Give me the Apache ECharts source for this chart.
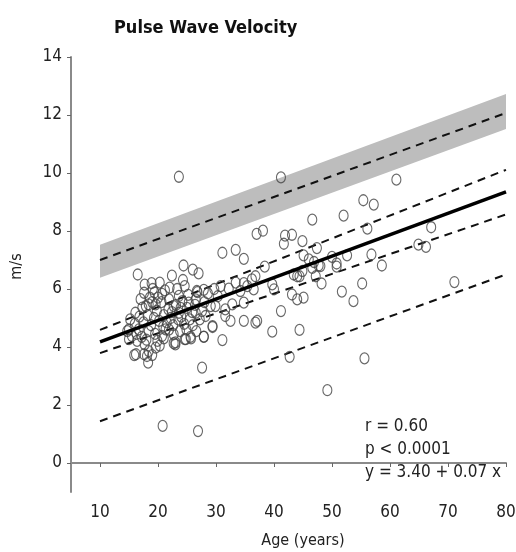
<!DOCTYPE html>
<html lang="en">
<head>
    <meta charset="UTF-8">
    <title>Pulse Wave Velocity</title>
    <script src="https://cdn.jsdelivr.net/npm/echarts@6/dist/echarts.min.js"></script>
    <style type="text/css">
        body { margin: 0px; padding: 0px; background: #fff; }
        #chart { width: 516px; height: 552px; }
    </style>
</head>
<body>
    <div id="chart"></div>
</body>
<script>
    // tick labels
    const xTicks = [10, 20, 30, 40, 50, 60, 70, 80];
    const yTicks = [0, 2, 4, 6, 8, 10, 12, 14];

    // subjects: age (years) and PWV (m/s)
    const ages = [
        23.6, 41.2, 61.1, 55.4, 57.2, 46.6, 52.0, 37.0, 38.1, 41.9, 43.1, 41.7, 44.9, 47.4, 56.1, 67.1,
        64.9, 66.2, 56.8, 52.6, 45.1, 46.0, 46.9, 47.7, 50.0, 50.8, 50.8, 58.6, 38.4, 36.8, 36.5, 43.4,
        44.4, 47.2, 48.2, 55.2, 51.7, 53.7, 43.1, 44.0, 45.1, 41.2, 37.1, 39.7, 44.4, 42.7, 55.6, 49.2,
        40.0, 71.1, 20.8, 26.9, 27.6, 39.7, 44.0, 44.9, 46.6, 48.0,
        31.1, 33.4, 34.8, 30.8, 33.4, 34.8, 36.2, 32.2, 34.2, 29.9, 31.6, 32.8, 34.8, 31.6, 32.5, 34.8,
        36.8, 29.4, 27.9, 31.1, 25.6, 24.6, 23.0, 35.4,
        16.5, 22.4, 24.4, 26.0, 27.0, 24.3, 17.7, 18.9, 20.3, 17.6, 19.4, 20.7, 24.6, 26.7, 27.9, 26.8,
        23.6, 26.5, 25.3, 21.9, 22.7, 24.2, 16.1, 17.9, 19.6, 18.4, 17.3, 23.6, 26.5, 28.2, 27.6, 29.1,
        25.9, 15.5, 16.4, 16.2, 17.7, 18.4, 18.1, 18.3, 19.6, 19.9, 20.7, 21.3, 15.0, 16.7, 18.4, 23.0,
        22.7, 14.7, 15.0, 15.9, 19.0, 17.6, 22.7, 24.8, 25.7, 27.9, 29.4,
        15.2, 16.0, 16.8, 17.5, 18.2, 18.8, 19.3, 19.8, 20.2, 20.6, 21.0, 21.5, 21.8, 22.2, 22.6, 23.1,
        23.5, 24.0, 24.5, 25.0, 25.5, 26.0, 26.4, 27.2, 28.0, 28.6, 29.7, 30.3, 17.0, 18.6, 19.1, 20.0,
        21.2, 22.0, 23.3, 23.9, 25.2, 16.3, 17.2, 18.0, 19.5, 20.3, 21.0, 21.9, 23.8, 24.9, 26.6, 19.0,
        20.9, 22.4
    ];
    const pwv = [
        9.87, 9.85, 9.77, 9.06, 8.91, 8.39, 8.53, 7.90, 8.01, 7.84, 7.87, 7.56, 7.65, 7.41, 8.08, 8.13,
        7.53, 7.45, 7.19, 7.16, 7.16, 7.02, 6.93, 6.81, 7.11, 6.88, 6.77, 6.81, 6.77, 6.44, 5.99, 6.50,
        6.44, 6.44, 6.19, 6.19, 5.91, 5.58, 5.81, 5.64, 5.70, 5.24, 4.90, 4.53, 4.59, 3.66, 3.61, 2.51,
        5.99, 6.24, 1.28, 1.10, 3.29, 6.16, 6.44, 6.62, 6.73, 6.79,
        7.25, 7.35, 7.04, 6.10, 6.22, 6.20, 6.33, 6.01, 5.93, 5.41, 5.30, 5.47, 5.53, 5.07, 4.90, 4.90,
        4.84, 4.69, 4.35, 4.24, 4.35, 4.27, 4.16, 6.10,
        6.50, 6.46, 6.81, 6.67, 6.54, 6.31, 6.15, 6.20, 6.22, 5.87, 5.88, 5.83, 6.10, 5.93, 5.97, 5.89,
        5.76, 5.64, 5.53, 5.64, 5.41, 5.58, 5.18, 5.41, 5.47, 5.47, 5.36, 5.18, 5.18, 5.07, 5.24, 5.41,
        5.20, 4.38, 4.21, 3.75, 4.09, 3.86, 3.69, 3.46, 3.98, 4.21, 4.38, 4.61, 4.61, 4.61, 4.55, 4.09,
        4.44, 4.55, 4.27, 3.72, 3.72, 3.75, 4.13, 4.27, 4.30, 4.36, 4.72,
        4.95, 4.80, 5.05, 4.85, 5.10, 4.75, 5.00, 5.25, 4.90, 5.55, 5.10, 4.85, 5.30, 5.00, 4.75, 5.45,
        4.95, 5.05, 4.80, 5.35, 4.95, 4.75, 5.45, 4.95, 5.55, 5.85, 6.00, 5.75, 5.65, 5.70, 6.00, 5.70,
        5.95, 6.05, 6.00, 5.35, 5.80, 4.45, 4.35, 4.25, 4.45, 4.05, 4.30, 4.60, 4.55, 4.60, 4.55, 5.55,
        4.70, 5.20
    ];

    // line end points at age 10 and 80
    const lineAges = [10, 80];
    const fitLine = [4.18, 9.35];
    const ciUpper = [4.59, 10.11];
    const ciLower = [3.79, 8.57];
    const predLower = [1.44, 6.50];
    const refMid = [7.00, 12.07];
    const refLow = [6.39, 11.52];
    const refHigh = [7.53, 12.72];

    const statsText = ['r = 0.60', 'p < 0.0001', 'y = 3.40 + 0.07 x'];

    const FONT = "'DejaVu Sans Condensed', 'Liberation Sans Narrow', sans-serif";
    const pts = (ys) => lineAges.map((a, i) => [a, ys[i]]);

    const chart = echarts.init(document.getElementById('chart'));

    function dashed(name, ys) {
        return {
            name: name, type: 'line', data: pts(ys), symbol: 'none', silent: true,
            lineStyle: { color: '#111', width: 2, type: [8, 6] }, z: 3
        };
    }

    // grey reference band drawn as one polygon
    function renderBand(params, api) {
        const poly = [];
        for (let i = 0; i < lineAges.length; i++) poly.push(api.coord([lineAges[i], refHigh[i]]));
        for (let i = lineAges.length - 1; i >= 0; i--) poly.push(api.coord([lineAges[i], refLow[i]]));
        return { type: 'polygon', shape: { points: poly }, style: { fill: '#bdbdbd' } };
    }

    const option = {
        animation: false,
        backgroundColor: '#fff',
        title: {
            text: 'Pulse Wave Velocity',
            left: 109, top: 14,
            textStyle: { fontFamily: FONT, fontSize: 18, fontWeight: 'bold', color: '#111' }
        },
        grid: { left: 71, right: 10, top: 57, bottom: 60, containLabel: false, outerBoundsMode: 'none' },
        xAxis: {
            type: 'value', min: 5, max: 80,
            name: 'Age (years)', nameLocation: 'middle', nameGap: 41,
            nameTextStyle: { fontFamily: FONT, fontSize: 16, color: '#222', padding: [0, 0, 0, 29] },
            axisLine: { lineStyle: { color: '#8a8a8a', width: 2 } },
            axisTick: { customValues: xTicks, length: 4, lineStyle: { color: '#666' } },
            axisLabel: { customValues: xTicks, fontFamily: FONT, fontSize: 17, color: '#222', margin: 12 },
            splitLine: { show: false }
        },
        yAxis: {
            type: 'value', min: -1, max: 14,
            name: 'm/s', nameLocation: 'middle', nameGap: 46, nameRotate: 90,
            nameTextStyle: { fontFamily: FONT, fontSize: 16, color: '#222', padding: [0, 0, 0, 16] },
            axisLine: { show: true, lineStyle: { color: '#8a8a8a', width: 2 } },
            axisTick: { show: true, customValues: yTicks, length: 4, lineStyle: { color: '#666' } },
            axisLabel: { customValues: yTicks, fontFamily: FONT, fontSize: 17, color: '#222', margin: 9 },
            splitLine: { show: false }
        },
        graphic: statsText.map((t, i) => ({
            type: 'text', left: 365, top: 418 + i * 23,
            style: { text: t, fontFamily: FONT, fontSize: 17, fill: '#222' }
        })),
        series: [
            {
                name: 'refBand', type: 'custom', renderItem: renderBand, data: [0],
                silent: true, z: 1
            },
            dashed('refMid', refMid),
            dashed('ciUpper', ciUpper),
            dashed('ciLower', ciLower),
            dashed('predLower', predLower),
            {
                name: 'subjects', type: 'scatter',
                data: ages.map((a, i) => [a, pwv[i]]),
                symbol: 'circle', symbolSize: [9, 11],
                itemStyle: { color: 'rgba(0,0,0,0)', borderColor: '#444', borderWidth: 1.2 }, z: 4
            },
            {
                name: 'fit', type: 'line', data: pts(fitLine), symbol: 'none', silent: true,
                lineStyle: { color: '#000', width: 3.5 }, z: 5
            }
        ]
    };
    chart.setOption(option);
</script>
</html>
